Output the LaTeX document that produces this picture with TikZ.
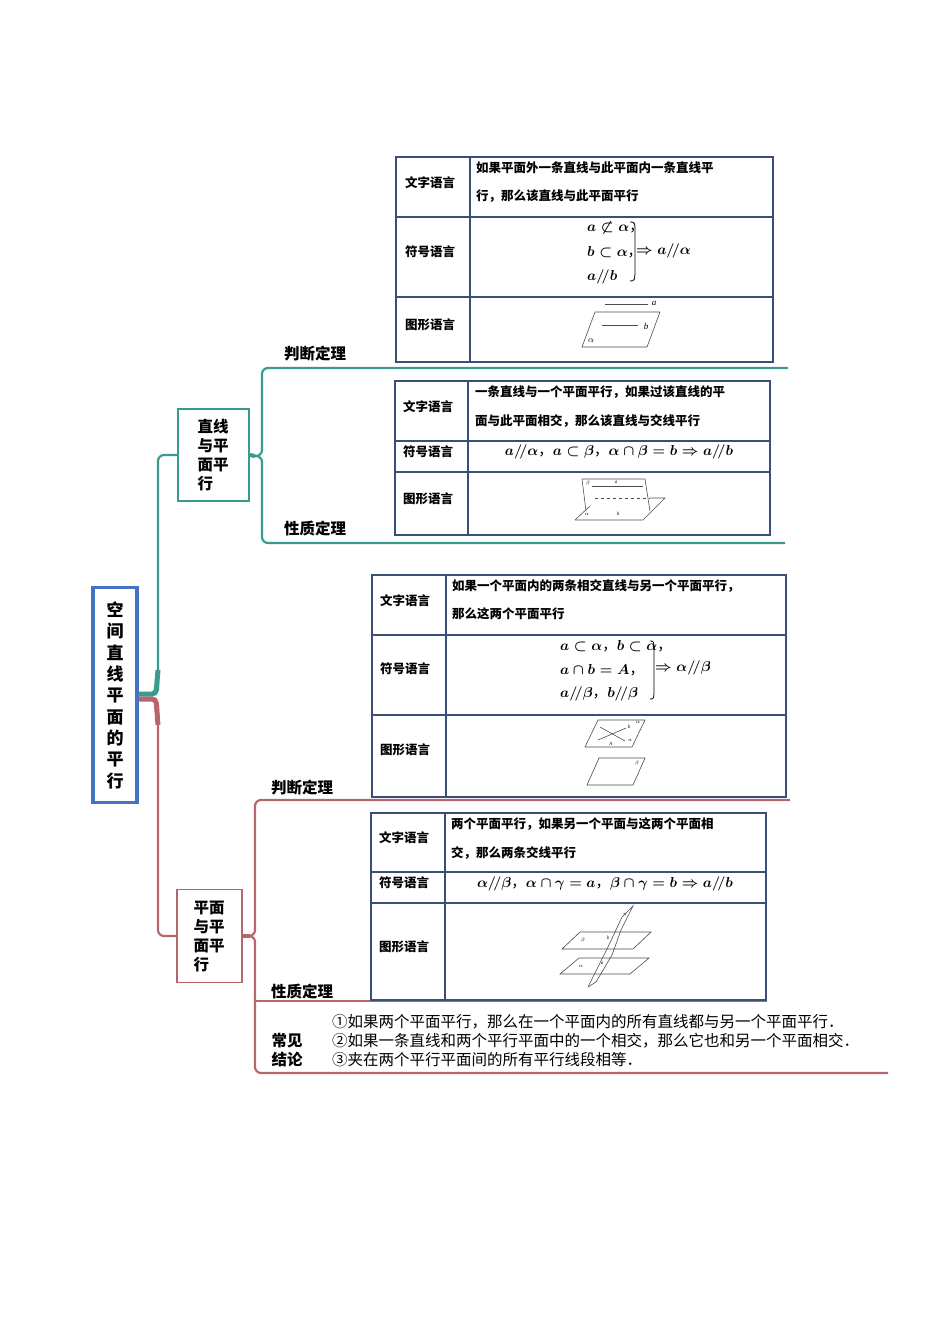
\documentclass[tikz,border=0pt]{standalone}
\usepackage{fontspec}
\setmainfont{Liberation Serif}
\newfontfamily\cjk{Noto Sans CJK SC}
\newcommand{\cm}{{\cjk，}}
\begin{document}
\begin{tikzpicture}[x=1pt,y=-1pt,
  cell/.style={font=\cjk\fontsize{12.5}{14}\selectfont\bfseries,anchor=west,inner sep=0pt},
  body/.style={font=\cjk\fontsize{12.5}{14}\selectfont\bfseries,anchor=west,inner sep=0pt},
  lbl/.style={font=\cjk\fontsize{15.5}{17}\selectfont\bfseries,anchor=center,inner sep=0pt},
  mth/.style={font=\fontsize{14.5}{16}\selectfont\boldmath,inner sep=0pt},
  fig/.style={line width=0.6pt,black!70}]
\useasboundingbox (0,0) rectangle (950,1344);
\definecolor{tealc}{HTML}{3A9A8C}\definecolor{redc}{HTML}{B8656E}\definecolor{bluec}{HTML}{4472C4}\definecolor{tbc}{HTML}{3B4E78}
\tikzset{tealc/.style={draw=tealc,line width=2.2pt,rounded corners=6pt},redc/.style={draw=redc,line width=2.2pt,rounded corners=6pt},
  tb/.style={draw=tbc,line width=1.3pt}}
% root
\node[draw=bluec,line width=3.5pt,minimum width=44pt,minimum height=215pt,inner sep=0pt] (root) at (115,695) {};
\foreach \c [count=\i] in {空,间,直,线,平,面,的,平,行}
  \node[font=\cjk\fontsize{17}{19}\selectfont\bfseries] at (115,588+\i*21.5) {\c};
% box1
\node[draw=tealc,line width=1.6pt,minimum width=71pt,minimum height=92pt,inner sep=0pt] (b1) at (213.5,455) {};
\node[lbl,align=left,font=\cjk\fontsize{15.5}{19}\selectfont\bfseries] at (213,455) {直线\\与平\\面平\\行};
\coordinate (t1) at (262,368); \coordinate (t2) at (262,543);
\coordinate (e1) at (788,368); \coordinate (e2) at (785,543);
\draw[tealc,line width=5pt,rounded corners=4pt] (root.east|-0,694) -- (156,694) -- (158,670);
\draw[tealc] (158,690) |- (b1.west);
\draw[tealc,line width=4pt] (b1.east) -- (255,456);
\draw[tealc] (255,456) -| (t1) -- (e1);
\draw[tealc] (255,456) -| (t2) -- (e2);
\node[lbl] (j1) at (315,354) {判断定理};
\node[lbl] (x1) at (315,529) {性质定理};
% box2
\node[draw=redc,line width=1.6pt,minimum width=65pt,minimum height=93pt,inner sep=0pt] (b2) at (209.5,936) {};
\node[lbl,align=left,font=\cjk\fontsize{15.5}{19}\selectfont\bfseries] at (209,936) {平面\\与平\\面平\\行};
\draw[redc,line width=5pt,rounded corners=4pt] (root.east|-0,699) -- (156,699) -- (158,725);
\draw[redc] (158,705) |- (b2.west);
\draw[redc,line width=4pt] (b2.east) -- (250,936);
\coordinate (r1) at (790,800); \coordinate (r2) at (767,1001); \coordinate (r3) at (888,1073);
\draw[redc] (250,936) -| (255,800) -- (r1);
\draw[redc] (250,936) -| (255,1073) -- (r3);
\draw[redc] (255,1001) -- (r2);
\node[lbl] (j2) at (302,788) {判断定理};
\node[lbl] (x2) at (302,992) {性质定理};
\node[lbl,align=left,font=\cjk\fontsize{15.5}{19.5}\selectfont\bfseries] (cj) at (287,1050) {常见\\结论};
\node[lbl,anchor=west,align=left,font=\cjk\fontsize{15.5}{19}\selectfont] (cl) at (332,1041) {①如果两个平面平行，那么在一个平面内的所有直线都与另一个平面平行．\\②如果一条直线和两个平行平面中的一个相交，那么它也和另一个平面相交．\\③夹在两个平行平面间的所有平行线段相等．};
% ---------- table 1
\draw[tb] (396,157) rectangle (773,362); \draw[tb] (470,157)--(470,362);
\draw[tb] (396,217)--(773,217); \draw[tb] (396,297)--(773,297);
\node[cell] at (405,183) {文字语言};\node[cell] at (405,252) {符号语言};\node[cell] at (405,325) {图形语言};
\node[body] at (476,168) {如果平面外一条直线与此平面内一条直线平};
\node[body] at (476,196) {行，那么该直线与此平面平行};
\node[mth,anchor=west] at (587,228) {$a\not\subset\alpha$\cm};
\node[mth,anchor=west] at (587,252) {$b\subset\alpha$\cm};
\node[mth,anchor=west] at (587,277) {$a/\!/b$};
\draw[line width=0.8pt] (630,222) .. controls (635,222) .. (635,235) -- (635,265) .. controls (635,281) .. (630,281);
\node[mth,anchor=west] at (636,251) {$\Rightarrow a/\!/\alpha$};
\draw[fig] (582,347)--(647,347)--(660,312)--(595,312)--cycle;
\draw[fig] (605,304)--(648,304); \node[font=\itshape\small] at (654,303) {a};
\draw[fig] (602,325)--(638,325); \node[font=\itshape\small] at (646,326) {b};
\node[font=\small] at (591,341) {$\alpha$};
% ---------- table 2
\draw[tb] (395,381) rectangle (770,535); \draw[tb] (468,381)--(468,535);
\draw[tb] (395,441)--(770,441); \draw[tb] (395,472)--(770,472);
\node[cell] at (403,407) {文字语言};\node[cell] at (403,452) {符号语言};\node[cell] at (403,499) {图形语言};
\node[body] at (475,392) {一条直线与一个平面平行，如果过该直线的平};
\node[body] at (475,421) {面与此平面相交，那么该直线与交线平行};
\node[mth] at (619,452) {$a/\!/\alpha$\cm$a\subset\beta$\cm$\alpha\cap\beta=b\Rightarrow a/\!/b$};
\draw[fig] (582,479)--(645,479)--(650,511); \draw[fig] (582,479)--(586,511);
\draw[fig] (575,520)--(643,520)--(665,498)--(650,498); \draw[fig] (575,520)--(590,506);
\draw[fig,dashed] (595,498)--(650,498);
\draw[fig] (592,486)--(643,486);
\node[font=\tiny] at (588,483) {$\beta$};\node[font=\tiny\itshape] at (616,482) {a};
\node[font=\tiny] at (587,514) {$\alpha$};\node[font=\tiny\itshape] at (618,514) {b};
% ---------- table 3
\draw[tb] (372,575) rectangle (786,797); \draw[tb] (446,575)--(446,797);
\draw[tb] (372,635)--(786,635); \draw[tb] (372,715)--(786,715);
\node[cell] at (380,601) {文字语言};\node[cell] at (380,669) {符号语言};\node[cell] at (380,750) {图形语言};
\node[body] at (452,586) {如果一个平面内的两条相交直线与另一个平面平行，};
\node[body] at (452,614) {那么这两个平面平行};
\node[mth,anchor=west] at (560,646) {$a\subset\alpha$\cm$b\subset\alpha$\cm};
\node[mth,anchor=west] at (560,670) {$a\cap b=A$\cm};
\node[mth,anchor=west] at (560,694) {$a/\!/\beta$\cm$b/\!/\beta$};
\draw[line width=0.8pt] (650,641) .. controls (654,641) .. (654,652) -- (654,688) .. controls (654,699) .. (650,699);
\node[mth,anchor=west] at (655,668) {$\Rightarrow\alpha/\!/\beta$};
\draw[fig] (585,747)--(632,747)--(645,720)--(598,720)--cycle;
\draw[fig] (600,727)--(625,741); \draw[fig] (598,740)--(626,728);
\node[font=\tiny] at (611,744) {A};\node[font=\tiny\itshape] at (629,727) {b};\node[font=\tiny] at (630,740) {$a$};\node[font=\tiny] at (638,722) {$\alpha$};
\draw[fig] (587,785)--(633,785)--(645,758)--(599,758)--cycle;
\node[font=\tiny] at (637,763) {$\beta$};
% ---------- table 4
\draw[tb] (371,813) rectangle (766,1000); \draw[tb] (445,813)--(445,1000);
\draw[tb] (371,872)--(766,872); \draw[tb] (371,903)--(766,903);
\node[cell] at (379,838) {文字语言};\node[cell] at (379,883) {符号语言};\node[cell] at (379,947) {图形语言};
\node[body] at (451,824) {两个平面平行，如果另一个平面与这两个平面相};
\node[body] at (451,853) {交，那么两条交线平行};
\node[mth] at (605,884) {$\alpha/\!/\beta$\cm$\alpha\cap\gamma=a$\cm$\beta\cap\gamma=b\Rightarrow a/\!/b$};
\draw[fig] (562,949)--(633,949)--(651,932)--(580,932)--cycle;
\draw[fig] (560,974)--(630,974)--(649,958)--(579,958)--cycle;
\draw[fig] (588,987)--(608,947)--(622,917)--(633,906)--(621,930);
\draw[fig] (588,987)--(596,982);
\draw[fig] (621,930)--(612,955)--(596,982);
\node[font=\tiny] at (583,940) {$\beta$};\node[font=\tiny] at (581,966) {$\alpha$};
\node[font=\tiny] at (625,915) {$\gamma$};\node[font=\tiny\itshape] at (608,938) {b};\node[font=\tiny\itshape] at (602,963) {a};
\end{tikzpicture}
\end{document}
